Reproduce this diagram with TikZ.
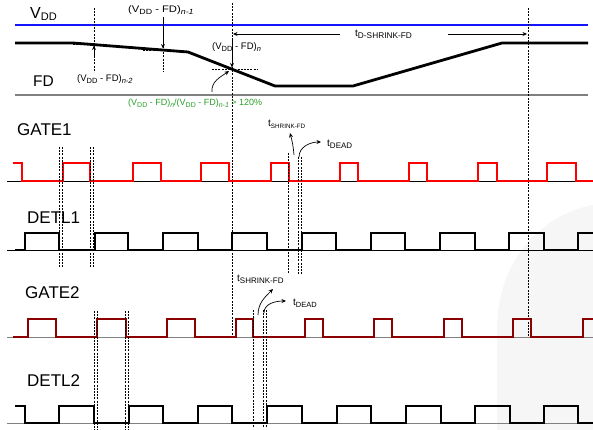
\documentclass[tikz,border=0pt]{standalone}
\usepackage{fontspec}
\setmainfont{Liberation Sans}
\usepackage{graphicx}
\usetikzlibrary{arrows.meta}
\definecolor{gateone}{RGB}{255,0,0}
\definecolor{gatetwo}{RGB}{140,0,0}
\definecolor{vddblue}{RGB}{20,20,255}
\definecolor{fdgray}{RGB}{128,128,128}
\definecolor{ratiogreen}{RGB}{40,160,40}
\definecolor{shadegray}{RGB}{246,246,246}
\newcommand\lowt[2][8]{\raisebox{-2pt}{\fontsize{#1}{#1}\selectfont #2}}
\begin{document}
\begin{tikzpicture}[x=1pt,y=-1pt,
  wave/.style={line width=2.6pt, line join=miter, line cap=butt},
  base/.style={line width=0.8pt},
  guide/.style={line width=0.6pt, dash pattern=on 2pt off 1.2pt},
  tip/.style={-{Stealth[length=4.5pt,width=4pt]}, line width=0.7pt},
  big/.style={inner sep=0pt, anchor=base west, font=\fontsize{17}{17}\selectfont},
  small/.style={inner sep=0pt, anchor=base west, font=\fontsize{10}{10}\selectfont},
]
\useasboundingbox (0,0) rectangle (593,430);
\fill[white] (0,0) rectangle (593,430);
% faint background shape
\fill[shadegray] (497,430) -- (497,330) .. controls (497,262) and (540,215) .. (593,205) -- (593,430) -- cycle;

% ---------- VDD / FD section ----------
\node[big, font=\fontsize{16}{16}\selectfont] (vdd) at (30,19) {V\lowt[11]{DD}};
\node[big, font=\fontsize{15.5}{15.5}\selectfont] (fd) at (33,87) {FD};
\draw[vddblue, line width=2.3pt] (15,25) -- (588,25);
\draw[fdgray, line width=2.2pt] (15,95) -- (588,95);
\draw[line width=2.8pt, line join=miter] (15,43) -- (73,43) -- (188,52) -- (275,86) -- (353,86) -- (502,43) -- (588,43);

% guides
\draw[guide] (94,8) -- (94,72);
\draw[guide] (163,17) -- (163,72);
\draw[guide] (232,3) -- (232,337);
\draw[guide] (528,8) -- (528,337);
\draw[guide] (73,44) -- (93,44);
\draw[guide] (143,50) -- (163,50);
\draw[guide] (212,69) -- (257,69);

% labels
\node[small, font=\fontsize{9.5}{9.5}\selectfont] (n2) at (77,82) {(V\lowt[7.5]{DD} - FD)\lowt[7.5]{\itshape n-2}};
\node[small] (n1) at (128,13) {\scalebox{1.18}[1]{\fontsize{9.5}{9.5}\selectfont(V\lowt[7.5]{DD} - FD)\lowt[7.5]{\itshape n-1}}};
\node[small, font=\fontsize{9.5}{9.5}\selectfont] (nn) at (212,50) {(V\lowt[7.5]{DD} - FD)\lowt[7.5]{\itshape n}};
\node[small, font=\fontsize{9}{9}\selectfont, text=ratiogreen] (ratio) at (128,106)
  {(V\lowt[7]{DD} - FD)\lowt[7]{\itshape n}/(V\lowt[7]{DD} - FD)\lowt[7]{\itshape n-1} > 120\%};
\node[small] (tdshrink) at (355,37) {t\lowt[8.3]{D-SHRINK-FD}};

% arrows on FD
\coordinate (n2s) at (94,58);  \coordinate (n2e) at (94,45.5);
\coordinate (n1s) at (163,18); \coordinate (n1e) at (163,48.5);
\coordinate (nns) at (232,38); \coordinate (nne) at (232,67.5);
\draw[tip] (n2s) -- (n2e);
\draw[tip] (n1s) -- (n1e);
\draw[tip] (nns) -- (nne);
\coordinate (rs) at (212,92); \coordinate (re) at (229,71);
\draw[tip] (rs) to[out=95,in=215] (re);
\coordinate (tdl) at (340,34); \coordinate (tdla) at (233,34);
\coordinate (tdr) at (448,34); \coordinate (tdra) at (527,34);
\draw[tip] (tdl) -- (tdla);
\draw[tip] (tdr) -- (tdra);

% ---------- GATE1 ----------
\node[big] (gate1) at (17,136) {GATE1};
\draw[base] (7,181) -- (593,181);
\draw[wave, gateone] (13,163) -- (22,163) -- (22,181)
  \foreach \a/\b in {63/90,133/161,201/229,271/289,340/358,409/427,478/497,547/576}
  { -- (\a,181) -- (\a,163) -- (\b,163) -- (\b,181) } -- (593,181);

% ---------- DETL1 ----------
\node[big] (detl1) at (27,223) {DETL1};
\draw[base] (7,250) -- (593,250);
\draw[wave] (15,250)
  \foreach \a/\b in {25/59,95/128,163/198,232/267,302/336,371/405,440/475,509/544}
  { -- (\a,250) -- (\a,233) -- (\b,233) -- (\b,250) } -- (578,250) -- (578,233) -- (593,233);

% GATE1 guides
\foreach \x in {59,62,90,93} \draw[guide] (\x,147) -- (\x,267);
\draw[guide] (288,153) -- (288,274);
\draw[guide] (298,157) -- (298,274);
\draw[guide] (301,157) -- (301,274);
\node[small] (ts1) at (268,127) {t\lowt[6.3]{SHRINK-FD}};
\node[small] (td1) at (327,147) {t\lowt[8]{DEAD}};
\coordinate (ts1s) at (294,155); \coordinate (ts1e) at (290,133);
\coordinate (td1s) at (299,157); \coordinate (td1e) at (321,142);
\draw[tip] (ts1s) to[out=95,in=-75] (ts1e);
\draw[tip] (td1s) to[out=90,in=180] (td1e);

% ---------- GATE2 ----------
\node[big] (gate2) at (25,298) {GATE2};
\draw[base, fdgray] (7,337) -- (593,337);
\draw[wave, gatetwo] (13,337)
  \foreach \a/\b in {28/56,97/126,167/195,236/253,305/323,374/392,444/462,513/531}
  { -- (\a,337) -- (\a,319) -- (\b,319) -- (\b,337) } -- (583,337) -- (583,319) -- (593,319);

% ---------- DETL2 ----------
\node[big] (detl2) at (27,386) {DETL2};
\draw[base, fdgray] (7,423) -- (593,423);
\draw[wave] (15,406) -- (25,406) -- (25,423)
  \foreach \a/\b in {59/94,129/163,198/232,267/302,337/371,406/441,475/510,544/578}
  { -- (\a,423) -- (\a,406) -- (\b,406) -- (\b,423) } -- (593,423);

% GATE2 guides
\foreach \x in {94,97,125,128} \draw[guide] (\x,311) -- (\x,430);
\draw[guide] (253,310) -- (253,428);
\draw[guide] (263,310) -- (263,428);
\draw[guide] (266,310) -- (266,428);
\node[small] (ts2) at (237,281) {t\lowt[8]{SHRINK-FD}};
\node[small] (td2) at (293,305) {t\lowt[7.5]{DEAD}};
\coordinate (ts2s) at (258,315); \coordinate (ts2e) at (273,289);
\coordinate (td2s) at (264,313); \coordinate (td2e) at (286,301);
\draw[tip] (ts2s) to[out=90,in=225] (ts2e);
\draw[tip] (td2s) to[out=90,in=180] (td2e);
\end{tikzpicture}
\end{document}
